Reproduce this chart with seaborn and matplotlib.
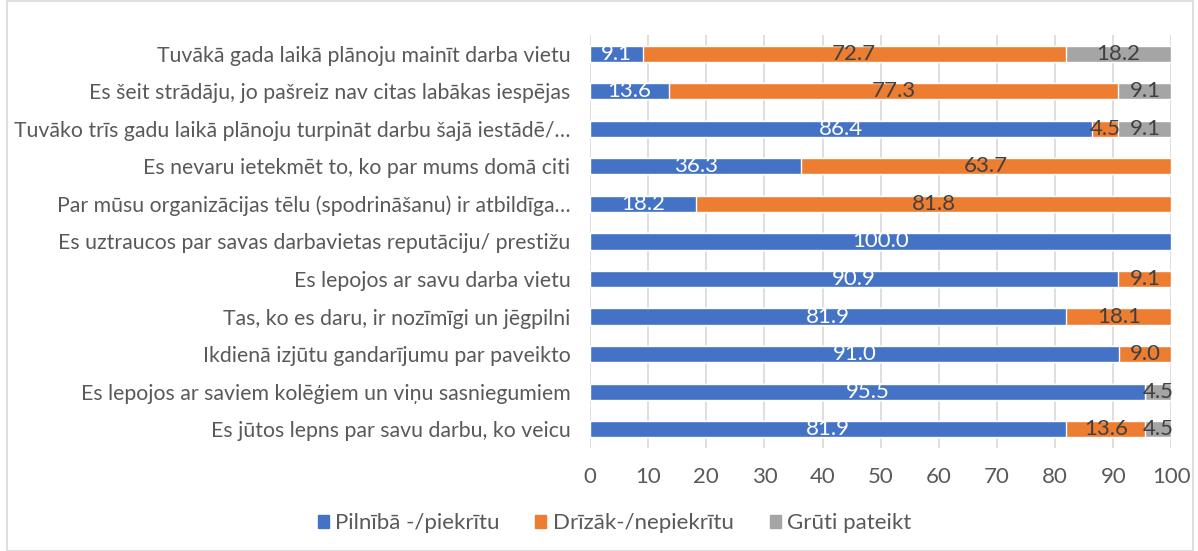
import pandas as pd
import matplotlib.pyplot as plt
import seaborn as sns
from matplotlib.patches import Rectangle, Patch

# Data (top to bottom)
statements = [
    "Tuvākā gada laikā plānoju mainīt darba vietu",
    "Es šeit strādāju, jo pašreiz nav citas labākas iespējas",
    "Tuvāko trīs gadu laikā plānoju turpināt darbu šajā iestādē/…",
    "Es nevaru ietekmēt to, ko par mums domā citi",
    "Par mūsu organizācijas tēlu (spodrināšanu) ir atbildīga…",
    "Es uztraucos par savas darbavietas reputāciju/ prestižu",
    "Es lepojos ar savu darba vietu",
    "Tas, ko es daru, ir nozīmīgi un jēgpilni",
    "Ikdienā izjūtu gandarījumu par paveikto",
    "Es lepojos ar saviem kolēģiem un viņu sasniegumiem",
    "Es jūtos lepns par savu darbu, ko veicu",
]
agree = [9.1, 13.6, 86.4, 36.3, 18.2, 100.0, 90.9, 81.9, 91.0, 95.5, 81.9]
disagree = [72.7, 77.3, 4.5, 63.7, 81.8, 0, 9.1, 18.1, 9.0, 0, 13.6]
hard = [18.2, 9.1, 9.1, 0, 0, 0, 0, 0, 0, 4.5, 4.5]
series_names = ["Pilnībā -/piekrītu", "Drīzāk-/nepiekrītu", "Grūti pateikt"]
colors = ["#4472C4", "#ED7D31", "#A5A5A5"]

df = pd.DataFrame({"statement": statements, "agree": agree,
                   "disagree": disagree, "hard": hard})
df["cum1"] = df["agree"]
df["cum2"] = df["agree"] + df["disagree"]
df["cum3"] = df["cum2"] + df["hard"]

sns.set_theme(style="white")
plt.rcParams["font.family"] = ["Lato", "DejaVu Sans"]

fig = plt.figure(figsize=(11.98, 5.51), dpi=100)
ax = fig.add_axes([0.4925, 0.187, 0.4853, 0.7495])

# stacked bars by overlapping cumulative totals
for col, c in zip(["cum3", "cum2", "cum1"], colors[::-1]):
    sns.barplot(data=df, x=col, y="statement", orient="h", color=c,
                width=0.43, saturation=1, ax=ax, zorder=2)

# data labels
for i, row in df.iterrows():
    segs = [(0, row["agree"], "white"),
            (row["cum1"], row["disagree"], "#404040"),
            (row["cum2"], row["hard"], "#404040")]
    for start, val, tc in segs:
        if val > 0:
            ax.text(start + val / 2, i, f"{val:.1f}", ha="center", va="center",
                    color=tc, fontsize=16, zorder=3)

ax.set_xlim(0, 100)
ax.set_ylim(10.5, -0.5)
ax.set_xticks(range(0, 101, 10))
ax.set_xlabel("")
ax.set_ylabel("")
ax.grid(axis="x", color="#D9D9D9", linewidth=1.2, zorder=0)
ax.set_axisbelow(True)
for s in ax.spines.values():
    s.set_visible(False)
ax.tick_params(axis="y", length=0, pad=14, labelsize=15.3, labelcolor="#595959")
ax.tick_params(axis="x", length=0, pad=14, labelsize=16, labelcolor="#595959")

handles = [Patch(color=c) for c in colors]
fig.legend(handles, series_names, loc="center", bbox_to_anchor=(0.513, 0.05),
           ncol=3, frameon=False, fontsize=16, labelcolor="#595959",
           handlelength=0.5, handleheight=0.5, handletextpad=0.3,
           columnspacing=1.6)

# outer chart border
fig.patches.append(Rectangle((0.006, 0.0), 0.99, 0.998, transform=fig.transFigure,
                             fill=False, edgecolor="#D9D9D9", linewidth=1.2))

plt.savefig("out.png", dpi=100)
plt.close()
